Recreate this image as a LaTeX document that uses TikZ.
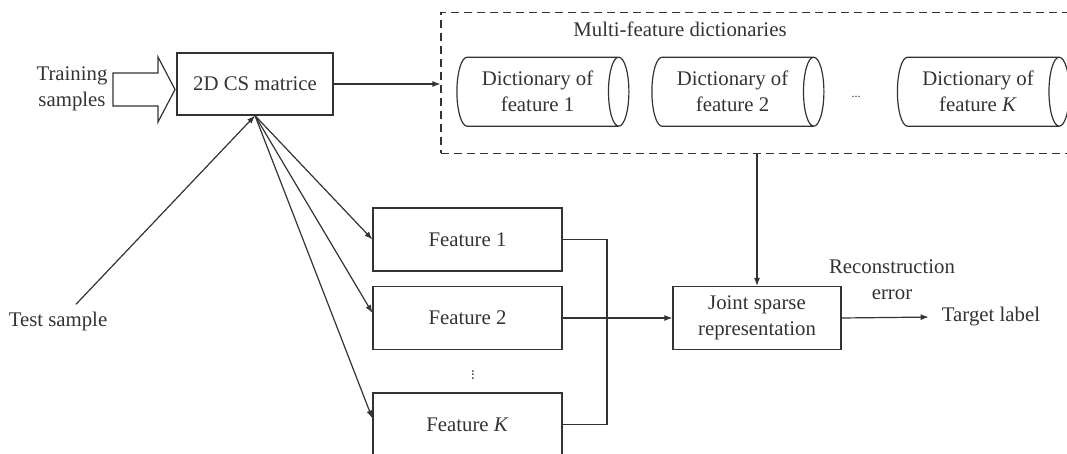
\documentclass[tikz,border=0pt]{standalone}
\usepackage{fontspec}
\setmainfont{Liberation Serif}
\usetikzlibrary{shapes.geometric,arrows.meta}
\colorlet{ink}{black!80}
\tikzstyle{box} = [draw=ink,rectangle,inner sep=0pt,minimum height=31.5pt]
\tikzstyle{dict} = [draw=ink,cylinder,shape aspect=.5,minimum height=86pt,minimum width=34.5pt,align=center,inner sep=0pt]
\tikzstyle{dictframe} = [draw=ink,dash pattern=on 4pt off 2.5pt,inner sep=0pt,minimum width=317pt,minimum height=70.5pt]
\tikzstyle{link} = [draw=ink,-{Latex[length=4pt,width=3pt]}]
\tikzstyle{tinydots} = [inner sep=0pt,font=\fontsize{6}{7}\selectfont]

\begin{document}
\begin{tikzpicture}[x=0.5pt,y=-0.5pt,line width=0.6pt,font=\fontsize{10.4}{13}\selectfont,text=ink]
\useasboundingbox (0,0) rectangle (1067,454);

\node[box,minimum width=78pt,minimum height=31pt] (cs) at (255,84) {2D CS matrice};
\node[align=center] (train) at (72,88.5) {Training\\samples};
\node (test) at (58,321) {Test sample};

% dictionaries
\node[dictframe] (dicts) at (758,83) {};
\node (dtitle) at (680,29) {Multi-feature dictionaries};
\node[dict] (d1) at (537.5,91.7) {Dictionary of\\feature 1};
\node[dict,right of=d1,node distance=97.5pt] (d2) {Dictionary of\\feature 2};
\node[dict,right of=d2,node distance=122.75pt] (dK) {Dictionary of\\feature \textit{K}};
\node[tinydots] (ddots) at (856,97) {...};

% features
\node[box,minimum width=94.5pt] (f1) at (467.5,239.5) {Feature 1};
\node[box,minimum width=94.5pt,below of=f1,node distance=39.25pt] (f2) {Feature 2};
\node[box,minimum width=94.5pt,below of=f2,node distance=53.25pt] (fK) {Feature \textit{K}};
\node[tinydots,rotate=90,font=\fontsize{7.5}{8}\selectfont] (fdots) at (473,375) {...};

% joint
\node[box,minimum width=84pt,align=center] (joint) at (757,318) {Joint sparse\\representation};
\node (target) at (991,317) {Target label};
\node[align=center] (recerr) at (892,280) {Reconstruction\\error};

% connectors
\draw[ink] (113,73) -- (158,73) -- (158,57) -- (175,89.5) -- (158,122) -- (158,106) -- (113,106) -- cycle;
\draw[link] (cs.east) -- (cs.east -| dicts.west);
\draw[link] (dicts.south -| joint.north) -- (joint.north);
\draw[link] ([xshift=9pt]test.north) -- (cs.south);
\draw[link] (cs.south) -- (f1.west);
\draw[link] (cs.south) -- ([yshift=2.5pt]f2.west);
\draw[link] (cs.south) -- ([yshift=3pt]fK.west);
\coordinate (bus) at (607,318);
\draw[ink] (f1.east) -| (bus) |- (fK.east);
\draw[link] (f2.east) -- (joint.west);
\draw[link,shorten >=3pt] (joint.east) -- (target.west);
\end{tikzpicture}
\end{document}
